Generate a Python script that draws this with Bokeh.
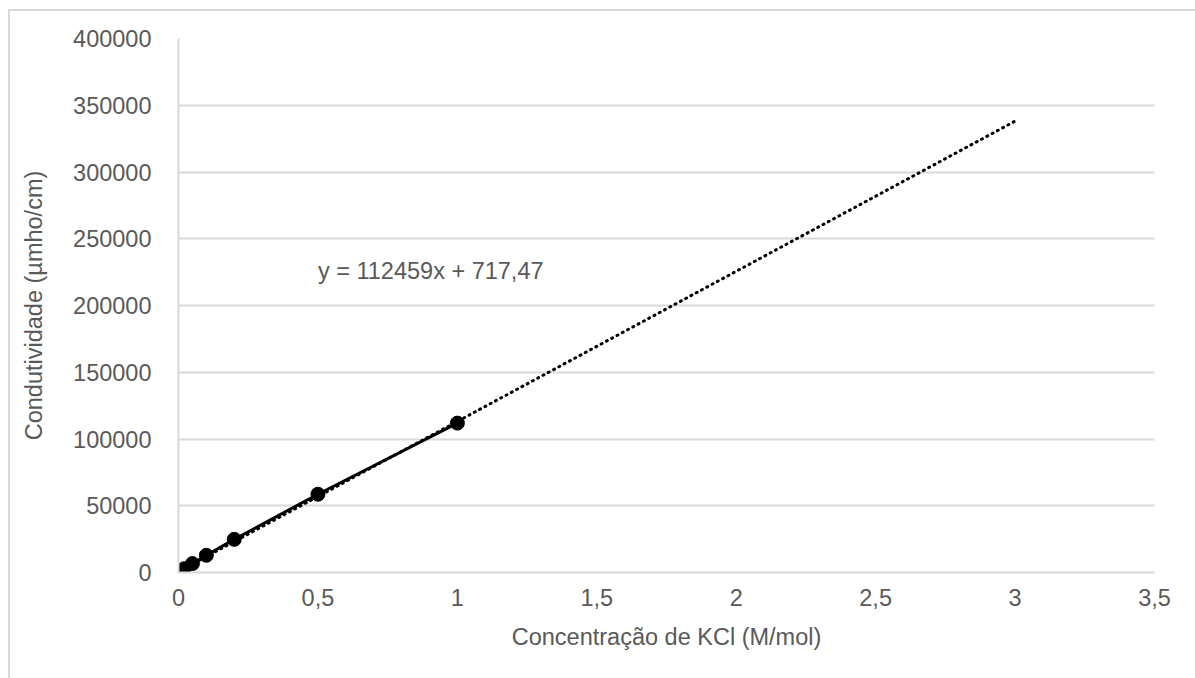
from bokeh.plotting import figure
from bokeh.models import Range1d, FixedTicker, CustomJSTickFormatter, Label, ColumnDataSource, InlineStyleSheet
from bokeh.embed import file_html
from bokeh.resources import INLINE

# Data
conc = [0.001, 0.01, 0.02, 0.05, 0.1, 0.2, 0.5, 1.0]
cond = [147, 1413, 2767, 6668, 12900, 24820, 58640, 111900]
slope = 112459
intercept = 717.47
trend_x = [0.0, 3.0]
trend_y = [slope * x + intercept for x in trend_x]
x_ticks = [0, 0.5, 1, 1.5, 2, 2.5, 3, 3.5]
y_ticks = [0, 50000, 100000, 150000, 200000, 250000, 300000, 350000, 400000]
equation_label = "y = 112459x + 717,47"

FONT = "Liberation Sans"
TXT = "#595959"
GRID = "#d9d9d9"
FS = "23.5px"

p = figure(width=1187, height=669, output_backend="svg", toolbar_location=None,
           x_range=Range1d(0, 3.5), y_range=Range1d(0, 400000),
           min_border_left=168, min_border_right=43, min_border_top=27, min_border_bottom=108)
p.margin = (9, 0, 0, 8)
p.stylesheets = [InlineStyleSheet(css=":host { border-left: 2px solid #d9d9d9; border-top: 2px solid #d9d9d9; box-sizing: border-box; }")]
p.outline_line_color = None
p.background_fill_color = "white"
p.border_fill_color = "white"

p.xaxis.ticker = FixedTicker(ticks=x_ticks)
p.yaxis.ticker = FixedTicker(ticks=y_ticks)
p.xaxis.formatter = CustomJSTickFormatter(code="return tick.toString().replace('.', ',');")
p.yaxis.formatter = CustomJSTickFormatter(code="return tick.toFixed(0);")

for ax in (p.xaxis, p.yaxis):
    ax.axis_line_color = GRID
    ax.axis_line_width = 2
    ax.major_tick_line_color = None
    ax.minor_tick_line_color = None
    ax.major_label_text_font = FONT
    ax.major_label_text_font_size = FS
    ax.major_label_text_color = TXT
    ax.axis_label_text_font = FONT
    ax.axis_label_text_font_size = FS
    ax.axis_label_text_color = TXT
    ax.axis_label_text_font_style = "normal"

p.xaxis.axis_label = "Concentração de KCl (M/mol)"
p.yaxis.axis_label = "Condutividade (µmho/cm)"
p.xaxis.major_label_standoff = 10
p.yaxis.major_label_standoff = 21
p.xaxis.axis_label_standoff = 15
p.yaxis.axis_label_standoff = 23

p.xgrid.grid_line_color = None
p.ygrid.grid_line_color = GRID
p.ygrid.grid_line_width = 2

src = ColumnDataSource(data=dict(x=conc, y=cond))
p.line(trend_x, trend_y, line_color="black", line_width=3, line_dash="1 5", line_cap="round")
p.line("x", "y", source=src, line_color="black", line_width=3)
p.scatter("x", "y", source=src, size=14, color="black")

p.add_layout(Label(x=0.5, y=226000, text=equation_label, text_font=FONT,
                   text_font_size=FS, text_color=TXT, text_baseline="middle"))

open("out.html", "w").write(file_html(p, INLINE))
